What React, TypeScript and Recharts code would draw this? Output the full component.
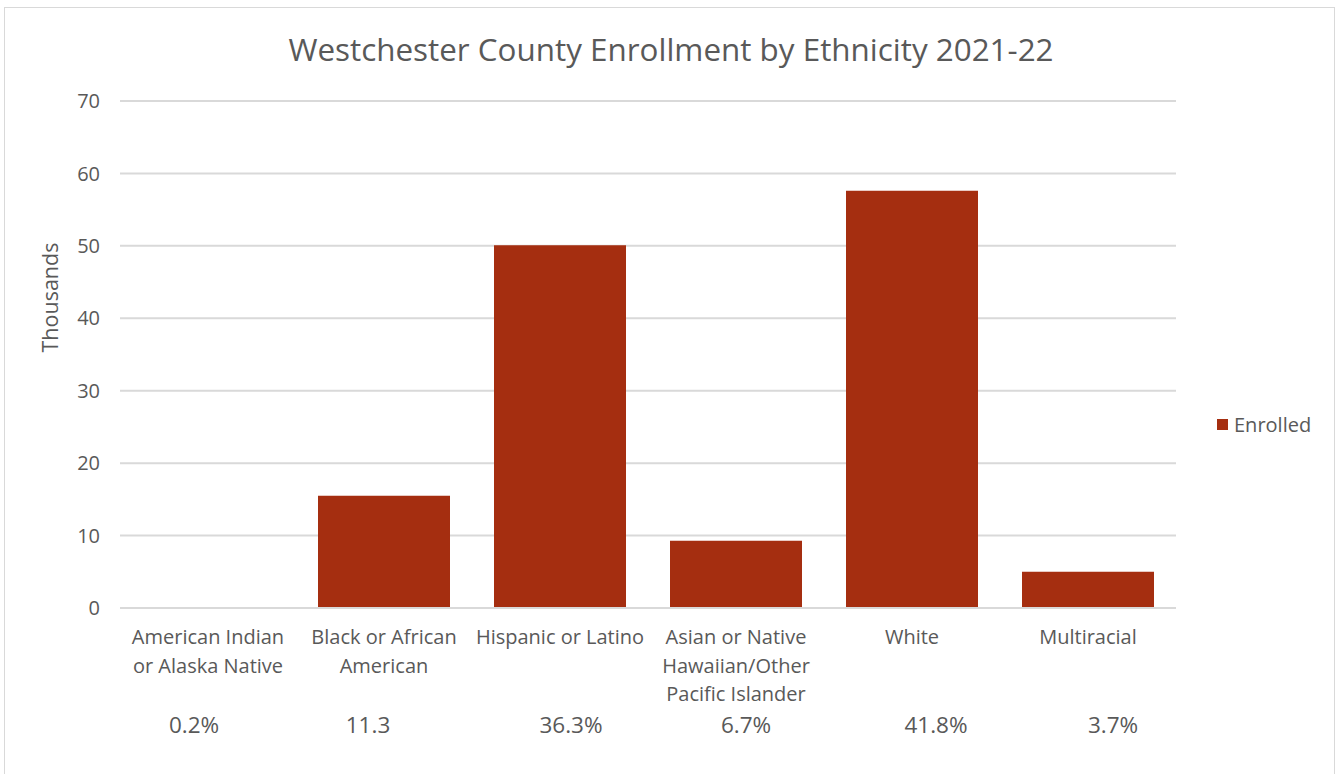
import React from "react";
import { BarChart, Bar, XAxis, YAxis, CartesianGrid, Legend, Label } from "recharts";

const categories = [
  "American Indian or Alaska Native",
  "Black or African American",
  "Hispanic or Latino",
  "Asian or Native Hawaiian/Other Pacific Islander",
  "White",
  "Multiracial",
];
const categoryLines = [
  ["American Indian", "or Alaska Native"],
  ["Black or African", "American"],
  ["Hispanic or Latino"],
  ["Asian or Native", "Hawaiian/Other", "Pacific Islander"],
  ["White"],
  ["Multiracial"],
];
const enrolled = [0.1, 15.5, 50.1, 9.3, 57.6, 5.0];
const shareLabels = ["0.2%", "11.3", "36.3%", "6.7%", "41.8%", "3.7%"];
const yTicks = [0, 10, 20, 30, 40, 50, 60, 70];

const data = categories.map((c, i) => ({ name: c, idx: i, Enrolled: enrolled[i] }));

const FONT = "'Open Sans', 'Noto Sans', sans-serif";
const TEXT = "#595959";
const GRID = "#d9d9d9";
const BAR = "#A52E10";
const shareOffsets = [-14, -16, 11, 10, 24, 25];

const XTick = (props: any) => {
  const { x, y, payload } = props;
  const i = payload.index;
  const lines = categoryLines[i] || [];
  return (
    <g>
      {lines.map((l, k) => (
        <text key={k} x={x} y={y + 36 + k * 28.5} textAnchor="middle" fill={TEXT} fontSize={20} fontFamily={FONT}>
          {l}
        </text>
      ))}
      <text x={x + shareOffsets[i]} y={y + 125} textAnchor="middle" fill={TEXT} fontSize={22.5} fontFamily={FONT}>
        {shareLabels[i]}
      </text>
    </g>
  );
};

const LegendContent = () => (
  <div style={{ display: "flex", alignItems: "center", fontFamily: FONT, fontSize: 20, color: TEXT }}>
    <span style={{ display: "inline-block", width: 11, height: 11, background: BAR, marginRight: 6 }} />
    <span>Enrolled</span>
  </div>
);

export default function App() {
  return (
    <div style={{ position: "absolute", left: 0, top: 0, width: 1338, height: 774, background: "#fff", overflow: "hidden" }}>
      <div style={{ position: "absolute", left: 4, top: 7, width: 1331, height: 800, border: `1px solid ${GRID}`, boxSizing: "border-box" }} />
      <div
        style={{
          position: "absolute",
          left: 0,
          top: 27,
          width: 1342,
          textAlign: "center",
          fontFamily: FONT,
          fontSize: 31.4,
          color: TEXT,
        }}
      >
        Westchester County Enrollment by Ethnicity 2021-22
      </div>
      <div style={{ position: "absolute", left: 0, top: 0 }}>
        <BarChart
          width={1338}
          height={774}
          data={data}
          margin={{ top: 101, right: 52, left: 40, bottom: 26 }}
          barCategoryGap="12.5%"
        >
          <CartesianGrid vertical={false} stroke={GRID} strokeWidth={2} />
          <XAxis
            dataKey="name"
            interval={0}
            height={140}
            tickLine={false}
            tickSize={0}
            tickMargin={0}
            axisLine={{ stroke: GRID, strokeWidth: 2 }}
            tick={<XTick />}
          />
          <YAxis
            width={80}
            domain={[0, 70]}
            ticks={yTicks}
            tickLine={false}
            axisLine={false}
            tickSize={0}
            tickMargin={20}
            tick={{ fill: TEXT, fontSize: 20, fontFamily: FONT }}
          >
            <Label
              value="Thousands"
              angle={-90}
              position="insideLeft"
              offset={10}
              dy={-57}
              style={{ fill: TEXT, fontSize: 21.5, fontFamily: FONT, textAnchor: "middle" }}
            />
          </YAxis>
          <Legend
            layout="vertical"
            align="right"
            verticalAlign="top"
            content={<LegendContent />}
            wrapperStyle={{ left: 1217, top: 411, width: 110 }}
          />
          <Bar dataKey="Enrolled" fill={BAR} isAnimationActive={false} />
        </BarChart>
      </div>
    </div>
  );
}
